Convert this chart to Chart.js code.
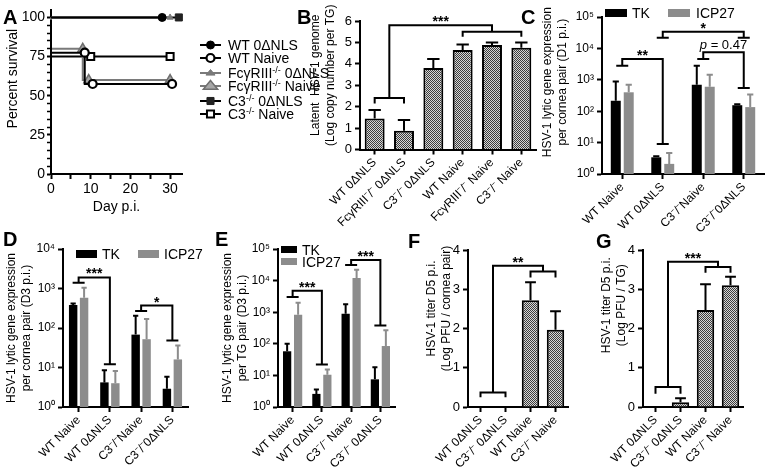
<!DOCTYPE html>
<html>
<head>
<meta charset="utf-8">
<script src="https://cdn.jsdelivr.net/npm/chart.js@4.4.1/dist/chart.umd.min.js"></script>
<style>
  body { margin: 0; background: #fff; }
  #page { position: relative; width: 774px; height: 474px; overflow: hidden; font-family: 'Liberation Sans', Arial, sans-serif; color: #000; }
  #page canvas { position: absolute; left: 0; top: 0; }
  .panel { position: absolute; font-size: 20px; font-weight: bold; line-height: 20px; }
  .key { position: absolute; font-size: 14px; line-height: 14px; white-space: nowrap; }
  .key sup { font-size: 9px; line-height: 0; vertical-align: 5px; }
  .sw { position: absolute; }
</style>
</head>
<body>
<div id="page">
  <canvas id="chartA" width="774" height="474"></canvas>
  <canvas id="chartB" width="774" height="474"></canvas>
  <canvas id="chartC" width="774" height="474"></canvas>
  <canvas id="chartD" width="774" height="474"></canvas>
  <canvas id="chartE" width="774" height="474"></canvas>
  <canvas id="chartF" width="774" height="474"></canvas>
  <canvas id="chartG" width="774" height="474"></canvas>

  <div class="panel" style="left:3px;top:7px">A</div>
  <div class="panel" style="left:297px;top:7px">B</div>
  <div class="panel" style="left:521px;top:7px">C</div>
  <div class="panel" style="left:3px;top:229px">D</div>
  <div class="panel" style="left:215px;top:229px">E</div>
  <div class="panel" style="left:408px;top:231px">F</div>
  <div class="panel" style="left:596px;top:231px">G</div>

  <!-- survival legend text, glyphs are drawn on chartA -->
  <div class="key" style="left:228px;top:38px">WT 0ΔNLS</div>
  <div class="key" style="left:228px;top:51px">WT Naive</div>
  <div class="key" style="left:228px;top:66px">FcγRIII<sup>-/-</sup> 0ΔNLS</div>
  <div class="key" style="left:228px;top:79px">FcγRIII<sup>-/-</sup> Naive</div>
  <div class="key" style="left:228px;top:94px">C3<sup>-/-</sup> 0ΔNLS</div>
  <div class="key" style="left:228px;top:107px">C3<sup>-/-</sup> Naive</div>

  <!-- TK / ICP27 keys -->
  <div class="sw" style="left:605px;top:9px;width:22px;height:8px;background:#000"></div>
  <div class="key" style="left:632px;top:6px">TK</div>
  <div class="sw" style="left:668px;top:9px;width:22px;height:8px;background:#8c8c8c"></div>
  <div class="key" style="left:696px;top:6px">ICP27</div>

  <div class="sw" style="left:76px;top:250px;width:21px;height:8px;background:#000"></div>
  <div class="key" style="left:102px;top:247px">TK</div>
  <div class="sw" style="left:138px;top:250px;width:21px;height:8px;background:#8c8c8c"></div>
  <div class="key" style="left:164px;top:247px">ICP27</div>

  <div class="sw" style="left:281px;top:246px;width:16px;height:7px;background:#000"></div>
  <div class="key" style="left:302px;top:243px">TK</div>
  <div class="sw" style="left:281px;top:258px;width:16px;height:7px;background:#8c8c8c"></div>
  <div class="key" style="left:302px;top:255px">ICP27</div>
</div>

<script>
// ---------- data ----------

// A: percent survival after challenge
const survNames = ['WT 0ΔNLS', 'WT Naive', 'FcγRIII-/- 0ΔNLS', 'FcγRIII-/- Naive', 'C3-/- 0ΔNLS', 'C3-/- Naive'];
const survDays = [
  [0, 28],
  [0, 8.5, 10.5, 30.5],
  [0, 30],
  [0, 8, 9.5, 30],
  [0, 32.2],
  [0, 10, 30]
];
const survPct = [
  [100, 100],
  [98.5, 77.5, 57.5, 57.5],
  [100, 100],
  [100, 80, 60, 60],
  [100, 100],
  [100, 75, 75]
];
const dayTicks = [0, 5, 10, 15, 20, 25, 30];
const pctTicks = [0, 5, 10, 15, 20, 25, 30, 35, 40, 45, 50, 55, 60, 65, 70, 75, 80, 85, 90, 95, 100];

// B: latent genome (log copies per TG)
const latentGroups = ['WT 0ΔNLS', 'FcγRIII⁻/⁻ 0ΔNLS', 'C3⁻/⁻ 0ΔNLS', 'WT Naive', 'FcγRIII⁻/⁻ Naive', 'C3⁻/⁻ Naive'];
const latentMean = [1.45, 0.88, 3.8, 4.65, 4.88, 4.75];
const latentUpper = [1.85, 1.38, 4.22, 4.9, 5.0, 5.0];

// C: cornea D1
const d1Groups = ['WT Naive', 'WT 0ΔNLS', 'C3⁻/⁻Naive', 'C3⁻/⁻0ΔNLS'];
const d1TK = [215, 3.4, 700, 155];
const d1TKUpper = [880, 3.7, 2800, 165];
const d1ICP = [400, 2.1, 600, 135];
const d1ICPUpper = [700, 4.7, 1450, 340];

// D: cornea D3
const d3Groups = ['WT Naive', 'WT 0ΔNLS', 'C3⁻/⁻Naive', 'C3⁻/⁻0ΔNLS'];
const d3TK = [380, 4.2, 68, 2.9];
const d3TKUpper = [420, 8.5, 205, 5.8];
const d3ICP = [580, 4.0, 52, 16];
const d3ICPUpper = [1050, 8.2, 170, 36];

// E: TG D3
const tgGroups = ['WT Naive', 'WT 0ΔNLS', 'C3⁻/⁻ Naive', 'C3⁻/⁻ 0ΔNLS'];
const tgTK = [58, 2.6, 900, 7.5];
const tgTKUpper = [100, 3.6, 1800, 18];
const tgICP = [830, 10.5, 12000, 85];
const tgICPUpper = [2000, 15.5, 22000, 270];

// F, G: titers D5
const titerGroups = ['WT 0ΔNLS', 'C3⁻/⁻ 0ΔNLS', 'WT Naive', 'C3⁻/⁻ Naive'];
const corneaTiter = [0, 0, 2.72, 1.97];
const corneaTiterUpper = [null, null, 3.18, 2.44];
const tgTiter = [0, 0.12, 2.47, 3.1];
const tgTiterUpper = [null, 0.22, 3.13, 3.32];

const logTicks = [1, 10, 100, 1000, 10000, 100000];

// significance brackets (data units)
const latentSig = [{ a: [0, 1], ay: 2.4, aLeg: 2.15, b: [3, 5], by: 5.5, bLeg: 5.27, top: 5.8, text: '***' }];
const d1Sig = [
  { g1: 0, y1: 2800, g2: 1, y2: 9, top: 4600, text: '**' },
  { g1: 1, y1: 22000, g2: 3, y2: 22000, top: 34000, text: '*' },
  { g1: 2, y1: 4600, g2: 3, y2: 550, top: 7500, text: 'p = 0.47' }
];
const d3Sig = [
  { g1: 0, y1: 1400, g2: 1, y2: 12, top: 1900, text: '***' },
  { g1: 2, y1: 270, g2: 3, y2: 48, top: 370, text: '*' }
];
const tgSig = [
  { g1: 0, y1: 3000, g2: 1, y2: 22, top: 4800, text: '***' },
  { g1: 2, y1: 31000, g2: 3, y2: 380, top: 45000, text: '***' }
];
const corneaTiterSig = [{ a: [0, 1], ay: 0.37, aLeg: 0.25, b: [2, 3], by: 3.45, bLeg: 3.3, top: 3.6, text: '**' }];
const tgTiterSig = [{ a: [0, 1], ay: 0.51, aLeg: 0.34, b: [2, 3], by: 3.57, bLeg: 3.42, top: 3.7, text: '***' }];

// ---------- styling helpers ----------
const FONT = "'Liberation Sans', Arial, sans-serif";
Chart.defaults.font.family = FONT;
Chart.defaults.color = '#000';
Chart.defaults.animation = false;
Chart.defaults.responsive = false;
Chart.defaults.plugins.legend.display = false;
Chart.defaults.plugins.tooltip.enabled = false;

const SUP = ['⁰', '¹', '²', '³', '⁴', '⁵'];
const GREY = '#8c8c8c';
const TITLE_LH = 14.4;

// shift a rotated title towards the top by prepending spaces
function lift(text, px) {
  return ' '.repeat(Math.round(px / 1.67)) + text;
}

function hatch() {
  const c = document.createElement('canvas');
  c.width = 2; c.height = 2;
  const g = c.getContext('2d');
  g.fillStyle = '#d6d6d6'; g.fillRect(0, 0, 2, 2);
  g.fillStyle = '#3c3c3c'; g.fillRect(0, 0, 1, 1); g.fillRect(1, 1, 1, 1);
  return g.createPattern(c, 'repeat');
}

const border = { display: true, color: '#000', width: 2 };
const marks = { drawOnChartArea: false, drawTicks: true, tickLength: 5, tickColor: '#000', tickWidth: 2, offset: false };

// box.tx = centre of first title line, l/t/r/b = plot area, xh = height of x axis block
function padFor(box) {
  return { left: box.tx - TITLE_LH / 2, top: box.t, right: 774 - box.r, bottom: 474 - box.b - box.xh };
}

function xCategory(box) {
  return {
    offset: true,
    grid: marks,
    border: border,
    ticks: { minRotation: 45, maxRotation: 45, autoSkip: false, padding: 1, font: { size: 12 } },
    afterFit: s => { s.height = box.xh; }
  };
}

function yTitle(lines) {
  return { display: true, text: lines, font: { size: 12, lineHeight: 1.2 }, padding: { top: 0, bottom: 0 } };
}

function yWidth(box) {
  return s => { s.width = box.l - (box.tx - TITLE_LH / 2); };
}

function yLinear(box, max, lines) {
  return {
    min: 0, max: max,
    ticks: { stepSize: 1, autoSkip: false, padding: 3, font: { size: 13 } },
    grid: marks, border: border,
    title: yTitle(lines),
    afterFit: yWidth(box)
  };
}

function yLog(box, max, lines) {
  return {
    type: 'logarithmic', min: 1, max: max,
    afterBuildTicks: s => { s.ticks = logTicks.filter(v => v <= max).map(v => ({ value: v })); },
    ticks: { autoSkip: false, padding: 3, font: { size: 12 }, callback: v => '10' + SUP[Math.round(Math.log10(v))] },
    grid: marks, border: border,
    title: yTitle(lines),
    afterFit: yWidth(box)
  };
}

// upward error bars with caps
const errorBars = {
  id: 'errorBars',
  afterDatasetsDraw(chart) {
    const ctx = chart.ctx, y = chart.scales.y;
    chart.data.datasets.forEach((ds, i) => {
      if (!ds.upper) return;
      chart.getDatasetMeta(i).data.forEach((bar, j) => {
        const up = ds.upper[j];
        if (up == null) return;
        const yTop = y.getPixelForValue(up);
        const cap = bar.width * 0.62;
        ctx.save();
        ctx.strokeStyle = ds.errColor || '#000';
        ctx.lineWidth = 2;
        ctx.beginPath();
        ctx.moveTo(bar.x, bar.y);
        ctx.lineTo(bar.x, yTop);
        ctx.moveTo(bar.x - cap / 2, yTop);
        ctx.lineTo(bar.x + cap / 2, yTop);
        ctx.stroke();
        ctx.restore();
      });
    });
  }
};

function sigText(ctx, text, x, y) {
  if (text.startsWith('p')) {
    const rest = ' = 0.47';
    ctx.font = '13px ' + FONT;
    const wRest = ctx.measureText(rest).width;
    ctx.font = 'italic 13px ' + FONT;
    const wP = ctx.measureText('p').width;
    const x0 = x - (wP + wRest) / 2;
    ctx.textAlign = 'left';
    ctx.textBaseline = 'alphabetic';
    ctx.fillText('p', x0, y - 3);
    ctx.font = '13px ' + FONT;
    ctx.fillText(rest, x0 + wP, y - 3);
  } else {
    ctx.font = 'bold 14px ' + FONT;
    ctx.textAlign = 'center';
    ctx.textBaseline = 'alphabetic';
    ctx.fillText(text, x, y + 1);
  }
}

function sigBrackets(spans, tees) {
  return {
    id: 'sig',
    afterDraw(chart) {
      const ctx = chart.ctx, xs = chart.scales.x, ys = chart.scales.y;
      const X = i => xs.getPixelForValue(i);
      const Y = v => ys.getPixelForValue(v);
      ctx.save();
      ctx.strokeStyle = '#000';
      ctx.fillStyle = '#000';
      ctx.lineWidth = 2;
      spans.forEach(s => {
        const a0 = X(s.a[0]), a1 = X(s.a[1]), b0 = X(s.b[0]), b1 = X(s.b[1]);
        const am = (a0 + a1) / 2, bm = (b0 + b1) / 2;
        ctx.beginPath();
        ctx.moveTo(a0, Y(s.aLeg)); ctx.lineTo(a0, Y(s.ay)); ctx.lineTo(a1, Y(s.ay)); ctx.lineTo(a1, Y(s.aLeg));
        ctx.moveTo(b0, Y(s.bLeg)); ctx.lineTo(b0, Y(s.by)); ctx.lineTo(b1, Y(s.by)); ctx.lineTo(b1, Y(s.bLeg));
        ctx.moveTo(am, Y(s.ay)); ctx.lineTo(am, Y(s.top)); ctx.lineTo(bm, Y(s.top)); ctx.lineTo(bm, Y(s.by));
        ctx.stroke();
        sigText(ctx, s.text, (am + bm) / 2, Y(s.top));
      });
      tees.forEach(t => {
        const x1 = X(t.g1), x2 = X(t.g2);
        ctx.beginPath();
        ctx.moveTo(x1 - 6, Y(t.y1)); ctx.lineTo(x1 + 6, Y(t.y1));
        ctx.moveTo(x1, Y(t.y1)); ctx.lineTo(x1, Y(t.top)); ctx.lineTo(x2, Y(t.top)); ctx.lineTo(x2, Y(t.y2));
        ctx.moveTo(x2 - 6, Y(t.y2)); ctx.lineTo(x2 + 6, Y(t.y2));
        ctx.stroke();
        sigText(ctx, t.text, (x1 + x2) / 2, Y(t.top));
      });
      ctx.restore();
    }
  };
}

// ---------- A: survival ----------
const survStyle = [
  { line: '#000', shape: 'circle', r: 4, fill: '#000', edge: '#000', bw: 1 },
  { line: '#000', shape: 'circle', r: 4, fill: '#fff', edge: '#000', bw: 2.2 },
  { line: '#7a7a7a', shape: 'triangle', r: 3.5, fill: '#7a7a7a', edge: '#7a7a7a', bw: 1 },
  { line: '#7a7a7a', shape: 'triangle', r: 5.5, fill: '#a6a6a6', edge: '#6e6e6e', bw: 1.5 },
  { line: '#000', shape: 'rect', r: 5, fill: '#222', edge: '#222', bw: 1 },
  { line: '#000', shape: 'rect', r: 5, fill: '#fff', edge: '#000', bw: 2 }
];
const survLegendY = [45, 58, 73, 86, 101, 114];

function marker(ctx, st, x, y) {
  ctx.fillStyle = st.fill;
  ctx.strokeStyle = st.edge;
  ctx.lineWidth = st.bw;
  ctx.beginPath();
  if (st.shape === 'circle') {
    ctx.arc(x, y, st.r, 0, Math.PI * 2);
  } else if (st.shape === 'triangle') {
    ctx.moveTo(x, y - st.r);
    ctx.lineTo(x + st.r * 1.3, y + st.r * 0.6);
    ctx.lineTo(x - st.r * 1.3, y + st.r * 0.6);
    ctx.closePath();
  } else {
    const s = st.r * Math.SQRT1_2;
    ctx.rect(x - s, y - s, 2 * s, 2 * s);
  }
  ctx.fill();
  ctx.stroke();
}

const survLegend = {
  id: 'survLegend',
  afterDraw(chart) {
    const ctx = chart.ctx;
    survStyle.forEach((st, i) => {
      const y = survLegendY[i];
      ctx.save();
      ctx.strokeStyle = st.line;
      ctx.lineWidth = 2;
      ctx.beginPath(); ctx.moveTo(200, y); ctx.lineTo(221, y); ctx.stroke();
      marker(ctx, st, 210.5, y);
      ctx.restore();
    });
  }
};

const boxA = { tx: 13, l: 51, t: 10, r: 182, b: 174, xh: 41.4 };
new Chart(document.getElementById('chartA'), {
  type: 'line',
  data: {
    datasets: survNames.map((name, i) => ({
      label: name,
      data: survDays[i].map((d, k) => ({ x: d, y: survPct[i][k] })),
      stepped: 'after',
      fill: false,
      clip: false,
      borderColor: survStyle[i].line,
      borderWidth: 2,
      pointStyle: survStyle[i].shape,
      pointRadius: survDays[i].map((d, k) => (k === 0 ? 0 : survStyle[i].r)),
      pointBackgroundColor: survStyle[i].fill,
      pointBorderColor: survStyle[i].edge,
      pointBorderWidth: survStyle[i].bw
    }))
  },
  options: {
    devicePixelRatio: 1,
    layout: { padding: { left: boxA.tx - 8.4, top: boxA.t, right: 774 - boxA.r, bottom: 474 - boxA.b - boxA.xh } },
    scales: {
      x: {
        type: 'linear', min: 0, max: 33,
        afterBuildTicks: s => { s.ticks = dayTicks.map(v => ({ value: v })); },
        ticks: { maxRotation: 0, autoSkip: false, padding: 2, font: { size: 14 }, callback: v => (v % 10 === 0 ? v : '') },
        grid: marks, border: border,
        title: { display: true, text: 'Day p.i.', font: { size: 14 }, padding: 0 },
        afterFit: s => { s.height = boxA.xh; }
      },
      y: {
        min: 0, max: 104.5,
        afterBuildTicks: s => { s.ticks = pctTicks.map(v => ({ value: v })); },
        ticks: { autoSkip: false, padding: 2, font: { size: 14 }, callback: v => (v % 25 === 0 ? v : '') },
        grid: Object.assign({}, marks, { tickLength: 4, tickWidth: c => (c.tick && c.tick.value % 25 === 0 ? 2 : 1.5) }),
        border: border,
        title: { display: true, text: lift('Percent survival', 11), font: { size: 14 }, padding: { top: 0, bottom: 0 } },
        afterFit: s => { s.width = boxA.l - (boxA.tx - 8.4); }
      }
    }
  },
  plugins: [survLegend]
});

// ---------- B ----------
const boxB = { tx: 316, l: 360, t: 21, r: 536, b: 149.5, xh: 100 };
new Chart(document.getElementById('chartB'), {
  type: 'bar',
  data: {
    labels: latentGroups,
    datasets: [{
      data: latentMean, upper: latentUpper,
      backgroundColor: hatch(), borderColor: '#000', borderWidth: 2,
      categoryPercentage: 0.8, barPercentage: 0.85
    }]
  },
  options: {
    devicePixelRatio: 1,
    layout: { padding: padFor(boxB) },
    scales: {
      x: xCategory(boxB),
      y: yLinear(boxB, 6, [lift('Latent  HSV-1 genome', 10), lift('(Log copy number per TG)', 10)])
    }
  },
  plugins: [errorBars, sigBrackets(latentSig, [])]
});

// ---------- C, D, E: lytic gene expression ----------
function lyticChart(id, box, groups, tk, tkUp, icp, icpUp, max, lines, sig, cp, bp) {
  return new Chart(document.getElementById(id), {
    type: 'bar',
    data: {
      labels: groups,
      datasets: [
        { label: 'TK', data: tk, upper: tkUp, backgroundColor: '#000', errColor: '#000', categoryPercentage: cp, barPercentage: bp },
        { label: 'ICP27', data: icp, upper: icpUp, backgroundColor: GREY, errColor: GREY, categoryPercentage: cp, barPercentage: bp }
      ]
    },
    options: {
      devicePixelRatio: 1,
      layout: { padding: padFor(box) },
      scales: { x: xCategory(box), y: yLog(box, max, lines) }
    },
    plugins: [errorBars, sigBrackets([], sig)]
  });
}

lyticChart('chartC', { tx: 548, l: 602, t: 17, r: 764, b: 174, xh: 90 },
  d1Groups, d1TK, d1TKUpper, d1ICP, d1ICPUpper, 100000,
  [lift('HSV-1 lytic gene expression', 14), lift('per cornea pair (D1 p.i.)', 14)], d1Sig, 0.64, 0.77);

lyticChart('chartD', { tx: 12, l: 63, t: 249, r: 188, b: 407, xh: 67 },
  d3Groups, d3TK, d3TKUpper, d3ICP, d3ICPUpper, 10000,
  ['HSV-1 lytic gene expression', 'per cornea pair (D3 p.i.)'], d3Sig, 0.70, 0.77);

lyticChart('chartE', { tx: 228, l: 278, t: 249, r: 395, b: 407, xh: 67 },
  tgGroups, tgTK, tgTKUpper, tgICP, tgICPUpper, 100000,
  ['HSV-1 lytic gene expression', 'per TG pair (D3 p.i.)'], tgSig, 0.75, 0.75);

// ---------- F, G: titers ----------
function titerChart(id, box, mean, upper, lines, sig) {
  return new Chart(document.getElementById(id), {
    type: 'bar',
    data: {
      labels: titerGroups,
      datasets: [{
        data: mean, upper: upper,
        backgroundColor: hatch(), borderColor: '#000', borderWidth: 2,
        categoryPercentage: 0.85, barPercentage: 0.82
      }]
    },
    options: {
      devicePixelRatio: 1,
      layout: { padding: padFor(box) },
      scales: { x: xCategory(box), y: yLinear(box, 4, lines) }
    },
    plugins: [errorBars, sigBrackets(sig, [])]
  });
}

titerChart('chartF', { tx: 432, l: 468, t: 250, r: 568, b: 407, xh: 67 }, corneaTiter, corneaTiterUpper,
  [lift('HSV-1 titer D5 p.i.', 20), lift('(Log PFU / cornea pair)', 20)], corneaTiterSig);

titerChart('chartG', { tx: 607, l: 643, t: 250, r: 743, b: 407, xh: 67 }, tgTiter, tgTiterUpper,
  [lift('HSV-1 titer D5 p.i.', 24), lift('(Log PFU / TG)', 24)], tgTiterSig);
</script>
</body>
</html>
